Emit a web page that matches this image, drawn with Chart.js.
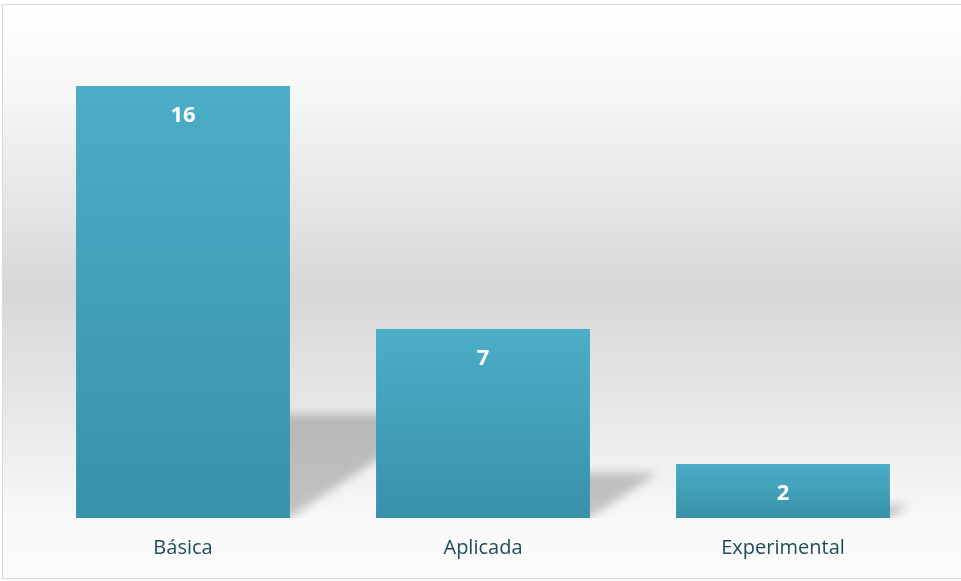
<!DOCTYPE html>
<html>
<head>
<meta charset="utf-8">
<script src="https://cdn.jsdelivr.net/npm/chart.js@4.4.1/dist/chart.umd.min.js"></script>
<style>
  body { margin: 0; background: #fff; }
  #grafico { display: block; }
</style>
</head>
<body>
<canvas id="grafico" width="961" height="581"></canvas>
<script>
const categorias = ['Básica', 'Aplicada', 'Experimental'];
const quantidades = [16, 7, 2];
const eixoMax = 18;

// fundo cinza em degradê + moldura fina
const fundo = {
    id: 'fundo',
    beforeDraw(chart) {
        const c = chart.ctx;
        const g = c.createLinearGradient(0, 4, 0, 579);
        g.addColorStop(0, '#ffffff');
        g.addColorStop(0.16, '#f6f6f6');
        g.addColorStop(0.5, '#d7d7d7');
        g.addColorStop(0.75, '#ebebeb');
        g.addColorStop(0.9, '#f9f9f9');
        g.addColorStop(1, '#fbfbfb');
        c.save();
        c.fillStyle = g;
        c.fillRect(2, 4, chart.width, 575);
        c.strokeStyle = '#d9d9d9';
        c.lineWidth = 1;
        c.strokeRect(2.5, 4.5, chart.width + 5, 574);
        c.restore();
    }
};

// sombra em perspectiva atrás de cada barra
const sombra = {
    id: 'sombra',
    beforeDatasetsDraw(chart) {
        const c = chart.ctx;
        const area = chart.chartArea;
        chart.getDatasetMeta(0).data.forEach(bar => {
            const x0 = bar.x - bar.width / 2;
            const x1 = bar.x + bar.width / 2;
            const base = bar.base;
            const hs = (base - bar.y) * 0.24;
            const desl = hs * 1.5;
            c.save();
            c.beginPath();
            c.rect(area.left - 20, area.top, area.width + 60, base - area.top);
            c.clip();
            c.filter = 'blur(5px)';
            c.fillStyle = 'rgba(0,0,0,0.21)';
            c.beginPath();
            c.moveTo(x0, base);
            c.lineTo(x1, base);
            c.lineTo(x1 + desl, base - hs);
            c.lineTo(x0 + desl, base - hs);
            c.closePath();
            c.fill();
            c.restore();
        });
    }
};

// valor em branco dentro da barra
const rotulos = {
    id: 'rotulos',
    afterDatasetsDraw(chart) {
        const c = chart.ctx;
        c.save();
        c.fillStyle = '#ffffff';
        c.font = 'bold 22px "Open Sans", sans-serif';
        c.textAlign = 'center';
        c.textBaseline = 'middle';
        chart.getDatasetMeta(0).data.forEach((bar, i) => {
            c.fillText(quantidades[i], bar.x, bar.y + 30);
        });
        c.restore();
    }
};

function corBarra(context) {
    const chart = context.chart;
    if (!chart.chartArea) return '#44a3bc';
    const y = chart.scales.y;
    const topo = y.getPixelForValue(quantidades[context.dataIndex]);
    const base = y.getPixelForValue(0);
    const g = chart.ctx.createLinearGradient(0, topo, 0, base);
    g.addColorStop(0, '#4badc6');
    g.addColorStop(1, '#3991ab');
    return g;
}

new Chart(document.getElementById('grafico'), {
    type: 'bar',
    data: {
        labels: categorias,
        datasets: [{
            data: quantidades,
            backgroundColor: corBarra,
            borderWidth: 0,
            categoryPercentage: 1,
            barPercentage: 0.713
        }]
    },
    plugins: [fundo, sombra, rotulos],
    options: {
        responsive: false,
        animation: false,
        layout: { padding: { left: 33, right: 28, top: 32, bottom: 0 } },
        plugins: {
            legend: { display: false },
            tooltip: { enabled: false }
        },
        scales: {
            y: {
                display: false,
                min: 0,
                max: eixoMax
            },
            x: {
                grid: { display: false, drawTicks: false },
                border: { display: false },
                ticks: {
                    color: '#1f4d57',
                    font: { family: '"Open Sans", sans-serif', size: 20 },
                    padding: 18
                },
                afterFit(scale) { scale.height = 63; }
            }
        }
    }
});
</script>
</body>
</html>
